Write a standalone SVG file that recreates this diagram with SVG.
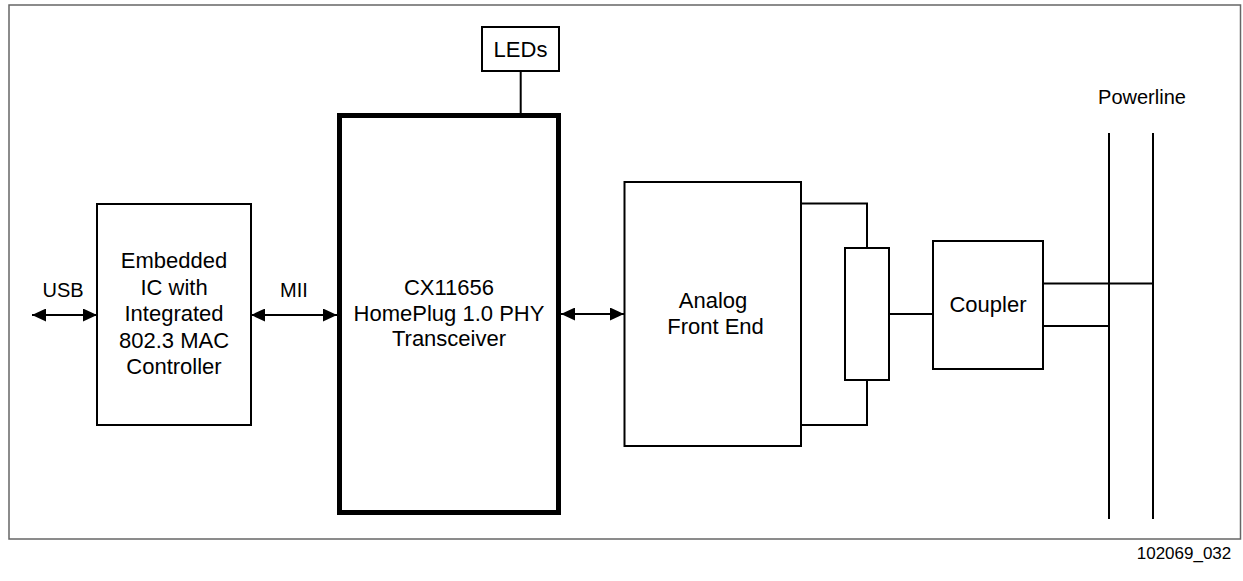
<svg xmlns="http://www.w3.org/2000/svg" width="1243" height="581" viewBox="0 0 1243 581">
<style>
.box{fill:#fff;stroke:#000;stroke-width:2}
.thick{fill:#fff;stroke:#000;stroke-width:5}
.ln{fill:none;stroke:#000;stroke-width:2}
text{font-family:"Liberation Sans",Arial,sans-serif;font-size:22px;fill:#000;text-anchor:middle}
text.sm{font-size:20px}
</style>
<defs>
<marker id="ah" viewBox="0 0 14 13" refX="14" refY="6.5" markerWidth="14" markerHeight="13" markerUnits="userSpaceOnUse" orient="auto-start-reverse">
<path d="M0,0 L14,6.5 L0,13 Z" fill="#000"/>
</marker>
</defs>
<rect x="0" y="0" width="1243" height="581" fill="#fff"/>
<rect x="9" y="5" width="1231.5" height="534" fill="none" stroke="#666" stroke-width="1.5"/>
<g id="connectors">
<line class="ln" x1="32" y1="315" x2="97" y2="315" marker-start="url(#ah)" marker-end="url(#ah)"/>
<line class="ln" x1="251" y1="315" x2="337" y2="315" marker-start="url(#ah)" marker-end="url(#ah)"/>
<line class="ln" x1="561" y1="314" x2="624" y2="314" marker-start="url(#ah)" marker-end="url(#ah)"/>
<line class="ln" x1="520.7" y1="71" x2="520.7" y2="113"/>
<polyline class="ln" points="801,203.5 867,203.5 867,248"/>
<polyline class="ln" points="801,425 867,425 867,380"/>
<line class="ln" x1="889" y1="314" x2="933" y2="314"/>
<line class="ln" x1="1043" y1="283.5" x2="1153" y2="283.5"/>
<line class="ln" x1="1043" y1="326" x2="1109" y2="326"/>
<line class="ln" x1="1109" y1="133" x2="1109" y2="519"/>
<line class="ln" x1="1153" y1="133" x2="1153" y2="519"/>
</g>
<g id="embedded">
<rect class="box" x="97" y="204" width="154" height="221"/>
<text x="174" y="268">Embedded</text>
<text x="174" y="294.5">IC with</text>
<text x="174" y="321">Integrated</text>
<text x="174" y="347.5">802.3 MAC</text>
<text x="174" y="374">Controller</text>
</g>
<g id="usb-label"><text class="sm" x="63" y="297">USB</text></g>
<g id="mii-label"><text class="sm" x="294" y="297">MII</text></g>
<g id="leds">
<rect class="box" x="482" y="27" width="77" height="44"/>
<text x="520.5" y="57">LEDs</text>
</g>
<g id="cx11656">
<rect class="thick" x="339.5" y="115.5" width="219" height="397"/>
<text x="449" y="295">CX11656</text>
<text x="449" y="320.5">HomePlug 1.0 PHY</text>
<text x="449" y="346">Transceiver</text>
</g>
<g id="afe">
<rect class="box" x="624.5" y="182" width="176.5" height="264"/>
<text x="713" y="307.5">Analog</text>
<text x="715.5" y="333.5">Front End</text>
</g>
<g id="resistor">
<rect class="box" x="845" y="248" width="44" height="132"/>
</g>
<g id="coupler">
<rect class="box" x="933" y="241" width="110" height="128"/>
<text x="988" y="312">Coupler</text>
</g>
<g id="powerline-label"><text class="sm" x="1142" y="104">Powerline</text></g>
<g id="figure-id"><text x="1184" y="559" style="font-size:17px">102069_032</text></g>
</svg>
